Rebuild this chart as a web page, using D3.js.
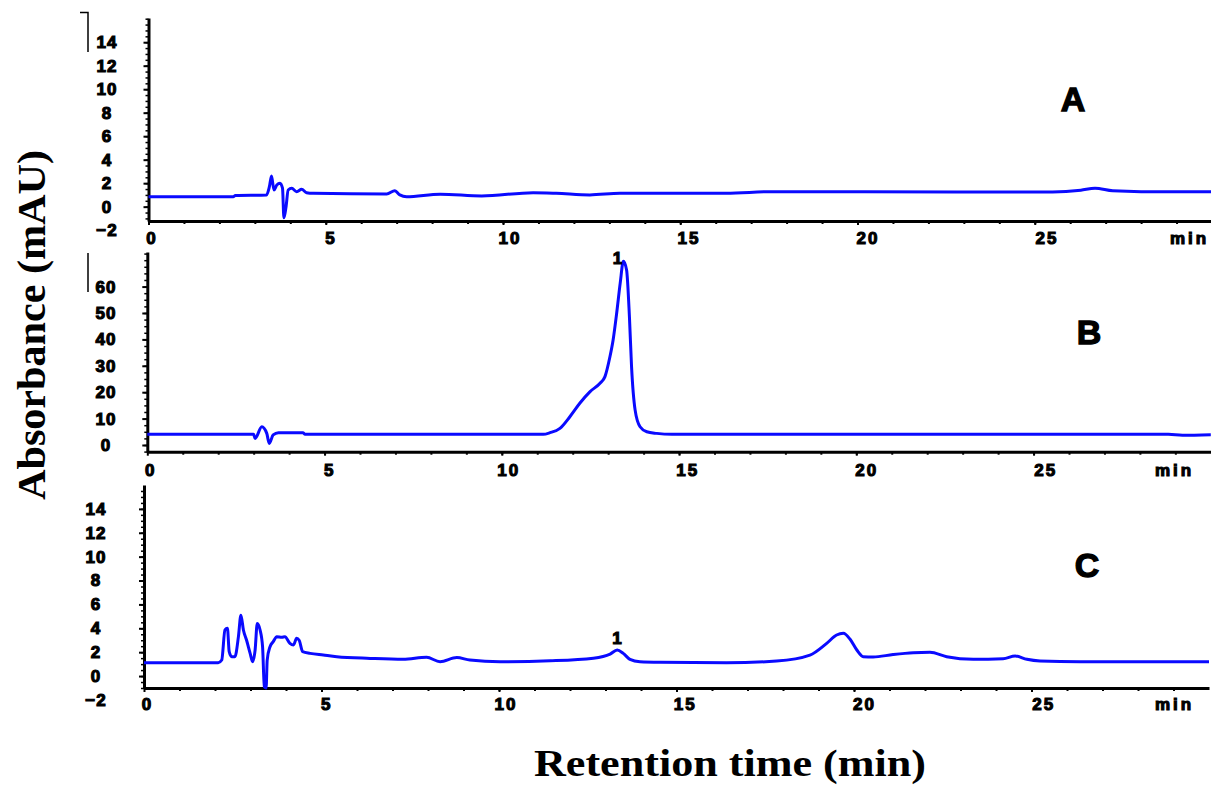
<!DOCTYPE html>
<meta charset="utf-8">
<script src="https://d3js.org/d3.v7.min.js"></script>
<style>
  body { margin: 0; background: #fff; }
  .tick text { font-family: "Liberation Sans", Arial, sans-serif; font-weight: bold; }
</style>
<body>
<div id="my_visual"></div>
<script>

// Chromatogram traces (time in min, absorbance in mAU)
var timeA = [0, 2.39, 2.45, 3.33, 3.41, 3.47, 3.54, 3.62, 3.71, 3.78, 3.82, 3.88, 3.94, 4.04, 4.18, 4.32, 4.46, 4.65,
             6.72, 6.95, 7.09, 7.28, 8.23, 9.4, 10.85, 11.5, 12.45, 13.3, 16.3, 17.6, 22.8, 25.5, 26.3, 26.7, 27.2, 28.0, 30];
var absA  = [0.85, 0.85, 0.95, 1.0, 1.7, 2.6, 1.42, 1.85, 2.0, 1.57, -0.95, 0.0, 1.42, 1.57, 1.28, 1.48, 1.19, 1.14,
             1.08, 1.36, 1.0, 0.85, 1.06, 0.91, 1.19, 1.14, 1.0, 1.14, 1.14, 1.28, 1.25, 1.25, 1.4, 1.57, 1.35, 1.28, 1.28];

var timeB = [0, 3.0, 3.04, 3.23, 3.37, 3.44, 3.55, 3.7, 4.39, 4.45, 11.17, 11.36, 11.64, 11.92, 12.2, 12.49, 12.77, 12.91,
             13.05, 13.14, 13.24, 13.34, 13.43, 13.52, 13.6, 13.66, 13.76, 13.9, 14.09, 14.37, 14.8, 28.8, 29.2, 30];
var absB  = [4.05, 4.05, 2.5, 6.9, 4.4, 0.6, 3.8, 4.66, 4.66, 4.05, 4.05, 4.66, 6.3, 10.7, 15.8, 20.2, 23.4, 25.9,
             33.4, 39.8, 49.9, 61.3, 69.6, 66.3, 48.6, 29.7, 13.3, 6.9, 5.0, 4.4, 4.05, 4.05, 3.7, 3.9];

var timeC = [0, 2.09, 2.19, 2.28, 2.35, 2.4, 2.47, 2.56, 2.66, 2.73, 2.8, 2.89, 2.99, 3.06, 3.13, 3.19, 3.27, 3.34, 3.39,
             3.44, 3.47, 3.55, 3.64, 3.74, 3.88, 3.97, 4.11, 4.21, 4.3, 4.37, 4.47, 4.68, 5.05, 5.43, 6.37, 7.3, 7.96,
             8.34, 8.81, 9.18, 10.03, 11.44, 12.66, 13.13, 13.33, 13.5, 13.69, 13.97, 14.54, 16.41, 17.82, 18.76, 19.23,
             19.51, 19.7, 19.89, 20.08, 20.26, 20.54, 21.1, 21.67, 22.14, 22.61, 23.36, 24.2, 24.54, 24.87, 25.24, 26.37, 30];
var absC  = [1.11, 1.11, 1.34, 3.86, 4.0, 2.04, 1.62, 1.62, 3.3, 5.1, 3.86, 3.0, 1.9, 1.2, 2.18, 4.4, 3.86, 2.46, -0.9,
             -1.0, 1.34, 2.46, 2.88, 3.3, 3.24, 3.3, 2.74, 2.6, 3.16, 3.0, 2.04, 1.9, 1.76, 1.62, 1.48, 1.4, 1.57,
             1.2, 1.55, 1.34, 1.2, 1.28, 1.5, 1.84, 2.18, 1.9, 1.4, 1.2, 1.15, 1.11, 1.26, 1.76, 2.74,
             3.44, 3.58, 3.08, 2.18, 1.62, 1.6, 1.8, 1.95, 1.99, 1.62, 1.4, 1.45, 1.68, 1.4, 1.26, 1.2, 1.2];

// Axis ticks
var xTicks = [0, 5, 10, 15, 20, 25];
var yTicksA = [-2, 0, 2, 4, 6, 8, 10, 12, 14];
var yTicksB = [0, 10, 20, 30, 40, 50, 60];
var yTicksC = [-2, 0, 2, 4, 6, 8, 10, 12, 14];

// Peak "1" (retention time, apex)
var peakB = {time: 13.26, abs: 70.8, text: "1"};
var peakC = {time: 13.32, abs: 3.2, text: "1"};

var width = 1211, height = 786;

var svg = d3.select("#my_visual")
  .append("svg")
    .attr("width", width)
    .attr("height", height)
    .style("background", "#fff");

// layout of each panel
var panels = [
  {name: "A", time: timeA, abs: absA, yTicks: yTicksA, peak: null,
   left: 148.5, pxMin: 35.45, bottom: 221, top: 18, yDom: [-1.22, 16.06], minor: 0.5,
   labX: 107, labDy: 17, letter: [1073, 99], minX: 1170},
  {name: "B", time: timeB, abs: absB, yTicks: yTicksB, peak: peakB,
   left: 147.3, pxMin: 35.45, bottom: 451.7, top: 252, yDom: [-2.54, 73.1], minor: 2.5,
   labX: 106, labDy: 18, letter: [1089, 332], minX: 1155},
  {name: "C", time: timeC, abs: absC, yTicks: yTicksC, peak: peakC,
   left: 144, pxMin: 35.5, bottom: 688, top: 485, yDom: [-1.0, 16.0], minor: 0.5,
   labX: 96, labDy: 16, letter: [1087, 565], minX: 1155}
];

var lbl = function(s) {
  s.style("font-family", "'Liberation Sans', Arial, sans-serif")
   .style("font-weight", "bold")
   .style("fill", "#000")
   .style("stroke", "#000")
   .style("stroke-width", 1.1);
};

panels.forEach(function(p) {
  var g = svg.append("g");

  var x = d3.scaleLinear().domain([0, 30]).range([p.left, p.left + p.pxMin * 30]);
  var y = d3.scaleLinear().domain(p.yDom).range([p.bottom, p.top]);

  // minor x ticks
  g.append("g")
    .attr("transform", "translate(0," + p.bottom + ")")
    .call(d3.axisBottom(x).tickValues(d3.range(1, 30)).tickSize(3).tickSizeOuter(0).tickFormat(""))
    .call(function(a) { a.select(".domain").remove(); a.selectAll("line").attr("stroke-width", 2); });

  // main x axis
  var xa = g.append("g")
    .attr("transform", "translate(0," + p.bottom + ")")
    .call(d3.axisBottom(x).tickValues(xTicks).tickSize(4).tickSizeOuter(0).tickPadding(p.labDy - 10));
  xa.select(".domain").attr("stroke-width", 3);
  xa.selectAll("line").attr("stroke-width", 2);
  xa.selectAll("text")
    .attr("dx", function(d) { return 3 + d * 0.35; })
    .style("font-size", "17px")
    .style("letter-spacing", "2px")
    .call(lbl);

  // "min" unit
  g.append("text")
    .attr("x", p.minX)
    .attr("y", p.bottom + p.labDy)
    .attr("dy", "0.35em")
    .style("font-size", "17px")
    .style("letter-spacing", "3px")
    .call(lbl)
    .text("min");

  // minor y ticks
  var yMin = d3.range(Math.ceil(p.yDom[0] / p.minor) * p.minor, p.yDom[1], p.minor);
  g.append("g")
    .attr("transform", "translate(" + p.left + ",0)")
    .call(d3.axisLeft(y).tickValues(yMin).tickSize(3).tickSizeOuter(0).tickFormat(""))
    .call(function(a) { a.select(".domain").remove(); a.selectAll("line").attr("stroke-width", 1.5); });

  // y axis line, major ticks and labels
  var ya = g.append("g")
    .attr("transform", "translate(" + p.left + ",0)")
    .call(d3.axisLeft(y).tickValues(p.yTicks).tickSize(0).tickSizeOuter(0));
  ya.select(".domain").attr("stroke-width", 3);
  ya.selectAll("text")
    .attr("x", p.labX - p.left)
    .attr("text-anchor", "middle")
    .style("font-size", "17px")
    .style("letter-spacing", "1px")
    .call(lbl);

  g.append("g")
    .attr("transform", "translate(" + p.left + ",0)")
    .call(d3.axisLeft(y).tickValues(p.yTicks.filter(function(v) { return v > p.yDom[0]; }))
      .tickSize(5).tickSizeOuter(0).tickFormat(""))
    .call(function(a) { a.select(".domain").remove(); a.selectAll("line").attr("stroke-width", 2); });

  // trace
  var pts = p.time.map(function(t, i) { return [t, p.abs[i]]; });
  g.append("path")
    .datum(pts)
    .attr("fill", "none")
    .attr("stroke", "#0a0aff")
    .attr("stroke-width", 3)
    .attr("stroke-linejoin", "round")
    .attr("d", d3.line()
      .curve(d3.curveMonotoneX)
      .x(function(d) { return x(d[0]); })
      .y(function(d) { return y(d[1]); }));

  // peak number
  if (p.peak) {
    g.append("text")
      .attr("x", x(p.peak.time))
      .attr("y", y(p.peak.abs))
      .attr("dy", "0.35em")
      .attr("text-anchor", "middle")
      .style("font-size", "17px")
      .call(lbl)
      .text(p.peak.text);
  }

  // panel letter
  g.append("text")
    .attr("x", p.letter[0])
    .attr("y", p.letter[1])
    .attr("dy", "0.36em")
    .attr("text-anchor", "middle")
    .style("font-family", "'Liberation Sans', Arial, sans-serif")
    .style("font-weight", "bold")
    .style("font-size", "34px")
    .style("stroke", "#000")
    .style("stroke-width", 1.3)
    .text(p.name);
});

// small stray marks of the original scan
svg.append("path")
  .attr("d", "M80,12.5H88V52 M88,253V292")
  .attr("fill", "none")
  .attr("stroke", "#000")
  .attr("stroke-width", 1.5);

// axis titles
svg.append("text")
  .attr("transform", "translate(45,325) rotate(-90)")
  .attr("text-anchor", "middle")
  .attr("textLength", 350)
  .attr("lengthAdjust", "spacingAndGlyphs")
  .style("font-family", "'Liberation Serif', 'Times New Roman', serif")
  .style("font-weight", "bold")
  .style("font-size", "40px")
  .text("Absorbance (mAU)");

svg.append("text")
  .attr("x", 730)
  .attr("y", 776)
  .attr("text-anchor", "middle")
  .attr("textLength", 392)
  .attr("lengthAdjust", "spacingAndGlyphs")
  .style("font-family", "'Liberation Serif', 'Times New Roman', serif")
  .style("font-weight", "bold")
  .style("font-size", "38px")
  .text("Retention time (min)");

</script>
</body>
</html>
